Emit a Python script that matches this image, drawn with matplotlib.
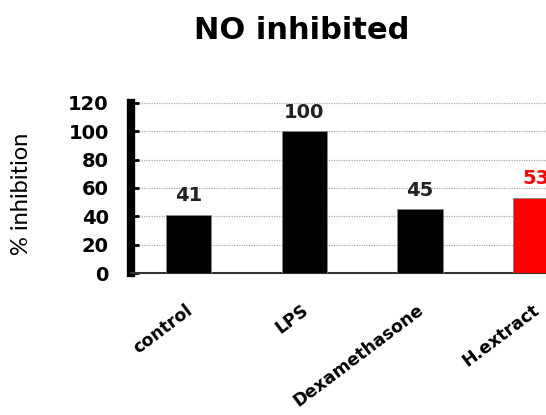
import matplotlib
matplotlib.use("Agg")
import matplotlib.pyplot as plt
import matplotlib.transforms as mtransforms

# data
groups = ["control", "LPS", "Dexamethasone", "H.extract"]
inhibition = [41, 100, 45, 53]
bar_colors = ["black", "black", "black", "#ff0000"]
label_colors = ["#222222", "#222222", "#222222", "#ff0000"]
yticks = [0, 20, 40, 60, 80, 100, 120]

fig = plt.figure(figsize=(5.46, 4.15), dpi=100)
ax = fig.add_axes([0.24, 0.342, 0.76, 0.41])

x = list(range(len(groups)))
ax.bar(x, inhibition, width=0.39, color=bar_colors, edgecolor="#888888", linewidth=0.6, zorder=3)

for xi, v, c in zip(x, inhibition, label_colors):
    ax.annotate(f"{v}", (xi, v), xytext=(0, 7), textcoords="offset points",
                ha="center", va="bottom", fontsize=14, fontweight="bold",
                color=c, family="DejaVu Sans")

ax.set_xlim(-0.5, 3.09)
ax.set_ylim(0, 120)
ax.set_yticks(yticks)
ax.set_yticklabels([str(t) for t in yticks], fontsize=14, fontweight="bold", family="DejaVu Sans")
ax.yaxis.grid(True, linestyle=(0, (1, 1)), color="#aaaaaa", linewidth=0.9, zorder=0)
ax.set_axisbelow(True)

ax.set_xticks(x)
ax.set_xticklabels(groups, rotation=37, ha="right", fontsize=12.5, fontweight="bold", family="DejaVu Sans")
ax.tick_params(axis="x", length=0, pad=20)
shift = mtransforms.ScaledTranslation(5 / 72, 0, fig.dpi_scale_trans)
for lab in ax.get_xticklabels():
    lab.set_transform(lab.get_transform() + shift)
ax.tick_params(axis="y", direction="in", length=6, width=2, pad=16)

for s in ["top", "right"]:
    ax.spines[s].set_visible(False)
ax.spines["left"].set_linewidth(6)
ax.spines["bottom"].set_linewidth(1.5)
ax.spines["bottom"].set_color("#333333")

ax.set_ylabel("% inhibition", fontsize=17, family="Lato")
ax.yaxis.set_label_coords(-0.238, 0.465)
fig.text(0.553, 0.927, "NO inhibited", ha="center", va="center",
         fontsize=22, fontweight="bold", family="DejaVu Sans")

fig.savefig("out.png", dpi=100)
